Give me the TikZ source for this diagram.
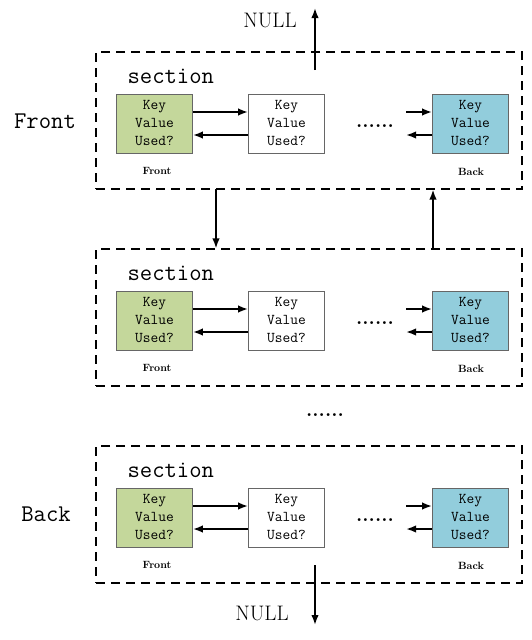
\documentclass[tikz,border=0pt]{standalone}
\usetikzlibrary{arrows,arrows.meta,positioning,shapes}
\definecolor{keygreen}{RGB}{196,215,155}
\definecolor{keyblue}{RGB}{146,205,220}

\begin{document}
\begin{tikzpicture}[x=1pt,y=-1pt,
        entry/.style={draw=black!60, line width=0.8pt, minimum width=76pt, minimum height=59pt, inner sep=0pt, align=center, font=\ttfamily\fontsize{15}{18}\selectfont},
        secbox/.style={draw, dash pattern=on 9pt off 6pt, line width=1.2pt, minimum width=426pt, minimum height=137pt},
        link/.style={draw,-{Latex[length=10pt,width=7.5pt]},line width=1.8pt},
        endlabel/.style={font=\bfseries\fontsize{10.5}{12}\selectfont},
        dotrow/.style={anchor=base, font=\bfseries\fontsize{20}{22}\selectfont}]
        \useasboundingbox (0,0) rectangle (532,640);
        %sections
        \foreach \i/\o in {1/0,2/197,3/394} {
            \node[secbox] (sec\i) at (309, 120.5+\o) {};
            \node[anchor=west, font=\ttfamily\fontsize{24}{26}\selectfont] (title\i) at (124, 76+\o) {section};
            \node[entry, fill=keygreen] (fr\i) at (154.5, 123.5+\o) {Key\\Value\\Used?};
            \node[entry, fill=white] (mid\i) at (286.5, 123.5+\o) {Key\\Value\\Used?};
            \node[entry, fill=keyblue] (bk\i) at (470.5, 123.5+\o) {Key\\Value\\Used?};
            \node[endlabel] (frl\i) at (157, 171+\o) {Front};
            \node[endlabel] (bkl\i) at (471, 172+\o) {Back};
            \node[dotrow] (dots\i) at (375, 127+\o) {......};
            %edges
            \path[link] ([yshift=11.5pt]fr\i.east) -- ([yshift=11.5pt]mid\i.west);
            \path[link] ([yshift=-11.5pt]mid\i.west) -- ([yshift=-11.5pt]fr\i.east);
            \path[link] ([xshift=-26pt,yshift=11.5pt]bk\i.west) -- ([yshift=11.5pt]bk\i.west);
            \path[link] ([yshift=-11.5pt]bk\i.west) -- ([xshift=-26pt,yshift=-11.5pt]bk\i.west);
        }
        %labels
        \node[font=\ttfamily\fontsize{24}{26}\selectfont] (front) at (45, 121) {Front};
        \node[font=\ttfamily\fontsize{24}{26}\selectfont] (back) at (46, 514) {Back};
        \node[font=\fontsize{21}{24}\selectfont] (nulltop) at (270, 20) {NULL};
        \node[font=\fontsize{21}{24}\selectfont] (nullbot) at (262, 613) {NULL};
        \node[dotrow] (gap) at (325, 416) {......};
        %links between sections
        \coordinate (upin) at (315, 70);
        \coordinate (upout) at (315, 8);
        \coordinate (downin) at (315, 565);
        \coordinate (downout) at (315, 625);
        \coordinate (dn1) at (216, 189);
        \coordinate (up2) at (433, 249);
        \path[link] (upin) -- (upout);
        \path[link] (downin) -- (downout);
        \path[link] (dn1) -- (dn1 |- sec2.north);
        \path[link] (up2) -- (up2 |- sec1.south);
\end{tikzpicture}
\end{document}
